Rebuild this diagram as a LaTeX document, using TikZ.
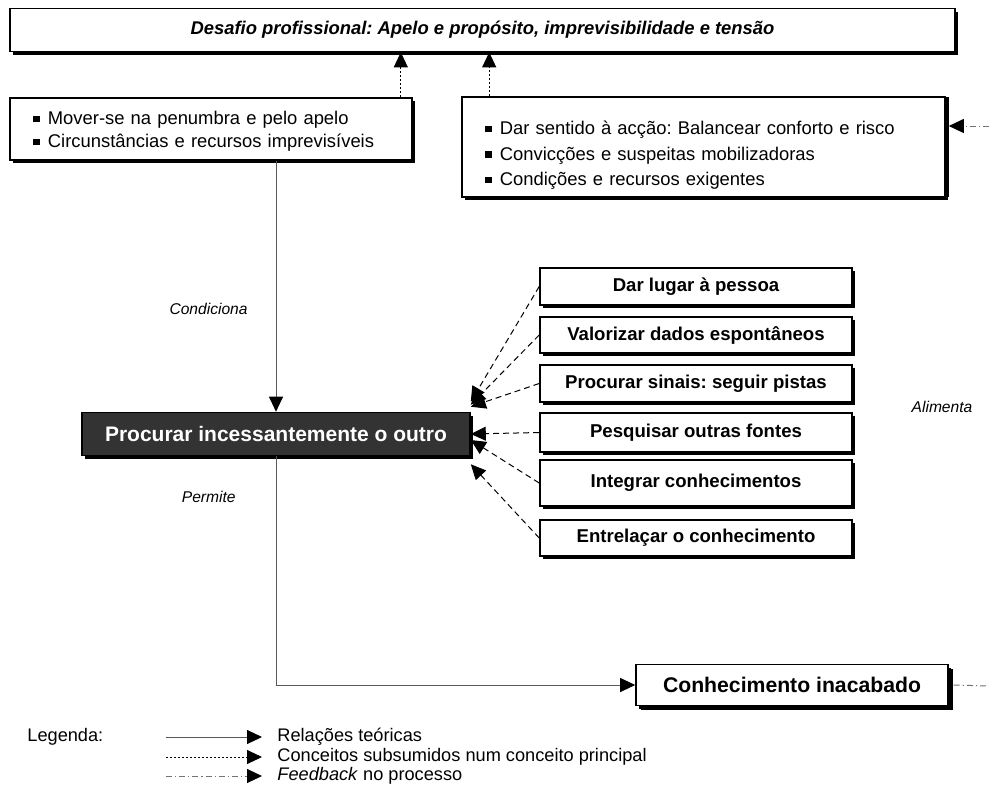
\documentclass[tikz,border=0pt]{standalone}
\usepackage{fontspec}
\setmainfont{Liberation Sans}
\usepackage{tikz}
\usetikzlibrary{positioning, arrows.meta, shadows}
\frenchspacing
\newcommand{\sqbul}{\rule[0.12em]{0.36em}{0.36em}\hspace{0.45em}}
\tikzset{
  tip/.style={-{Triangle[length=7.5pt, width=7pt, color=black]}},
  box/.style={draw=black, line width=0.8pt, fill=white, inner sep=0pt, align=center,
    drop shadow={shadow xshift=1.6pt, shadow yshift=-1.6pt, fill=black, opacity=1}},
  titlebox/.style={box, minimum width=472.5pt, minimum height=21.5pt,
    font=\fontsize{9.2}{11}\selectfont\bfseries\itshape},
  listbox/.style={box, align=left, font=\fontsize{9.2}{11.5}\selectfont},
  mainbox/.style={box, fill=black!80, text=white, minimum width=194pt, minimum height=21.5pt,
    font=\fontsize{10.5}{12}\selectfont\bfseries},
  actbox/.style={box, minimum width=156pt, font=\fontsize{9.3}{11}\selectfont\bfseries},
  conhbox/.style={box, minimum width=156pt, minimum height=20.5pt,
    font=\fontsize{10.6}{12}\selectfont\bfseries,
    drop shadow={shadow xshift=2.4pt, shadow yshift=-2.4pt, fill=black, opacity=1}},
  lbl/.style={font=\fontsize{7.8}{9}\selectfont\itshape, inner sep=0pt},
  txt/.style={font=\fontsize{9.1}{11}\selectfont, inner sep=0pt},
  relarr/.style={tip, line width=0.5pt, black!65},
  subarr/.style={tip, line width=0.45pt, dash pattern=on 1pt off 1pt},
  alarr/.style={tip, line width=0.5pt, dash pattern=on 3pt off 2pt},
  fbline/.style={line width=0.5pt, black!55, dash pattern=on 3pt off 1.5pt on 0.6pt off 1.5pt},
  fbarr/.style={fbline, tip},
}
\begin{document}
\begin{tikzpicture}[x=0.5pt, y=-0.5pt]
  \useasboundingbox (0,0) rectangle (989,787);
  \node[titlebox] (title) at (482.5,30) {Desafio profissional: Apelo e propósito, imprevisibilidade e tensão};
  \node[listbox, minimum width=201pt, minimum height=31pt, text width=178pt] (leftbox) at (211,129)
    {\rule{0pt}{9pt}\sqbul Mover-se na penumbra e pelo apelo\\ \sqbul Circunstâncias e recursos imprevisíveis};
  \node[listbox, minimum width=241.5pt, minimum height=50pt, text width=218.5pt,
    font=\fontsize{9.2}{12.75}\selectfont,
    drop shadow={shadow xshift=2pt, shadow yshift=0pt, fill=black, opacity=1}] (rightbox) at (703.5,147)
    {\rule{0pt}{15pt}\sqbul Dar sentido à acção: Balancear conforto e risco\\ \sqbul Convicções e suspeitas mobilizadoras\\ \sqbul Condições e recursos exigentes};
  \node[mainbox] (main) at (276,434) {Procurar incessantemente o outro};
  \foreach \t/\y/\h [count=\k] in {Dar lugar à pessoa/286.5/18.5, Valorizar dados espontâneos/335/18,
      Procurar sinais: seguir pistas/383.5/18.5, Pesquisar outras fontes/432.5/19.5,
      Integrar conhecimentos/483/23, Entrelaçar o conhecimento/538/18}
    \node[actbox, minimum height=\h pt] (a\k) at (696,\y) {\t};
  \node[conhbox] (conh) at (792,685) {Conhecimento inacabado};

  \coordinate (u1) at ([xshift=-6pt]leftbox.north east);
  \coordinate (u2) at ([xshift=14pt]rightbox.north west);
  \draw[subarr] (u1) -- (u1 |- title.south);
  \draw[subarr] (u2) -- (u2 |- title.south);
  \draw[relarr] (leftbox.south -| main.north) -- (main.north);
  \foreach \k/\an/\dy in {1/north east/5pt, 2/north east/3.5pt, 3/north east/2.5pt,
      4/east/0pt, 5/east/-3pt, 6/south east/-4pt}
    \draw[alarr] (a\k.west) -- ([yshift=\dy]main.\an);
  \draw[relarr] (main.south) |- (conh.west);
  \coordinate (fbin) at (989,126);
  \coordinate (fbout) at (989,686);
  \draw[fbarr] (fbin) -- ([xshift=1.5pt]fbin -| rightbox.east);
  \draw[fbline] ([xshift=2.4pt]conh.east) -- (fbout);

  \node[lbl, anchor=east] (cond) at (248,309) {Condiciona};
  \node[lbl, anchor=east] (perm) at (236,497) {Permite};
  \node[lbl] (alim) at (942,407) {Alimenta};

  \node[txt, anchor=west] (leg) at (27,737) {Legenda:};
  \foreach \st/\y/\t [count=\k] in {relarr/737/Relações teóricas,
      subarr/757/Conceitos subsumidos num conceito principal,
      fbarr/776/\emph{Feedback} no processo} {
    \node[txt, anchor=west] (lt\k) at (277,\y) {\t};
    \coordinate (ls\k) at (166,\y);
    \draw[\st] (ls\k) -- ([xshift=-7.5pt]lt\k.west);
  }
\end{tikzpicture}
\end{document}
